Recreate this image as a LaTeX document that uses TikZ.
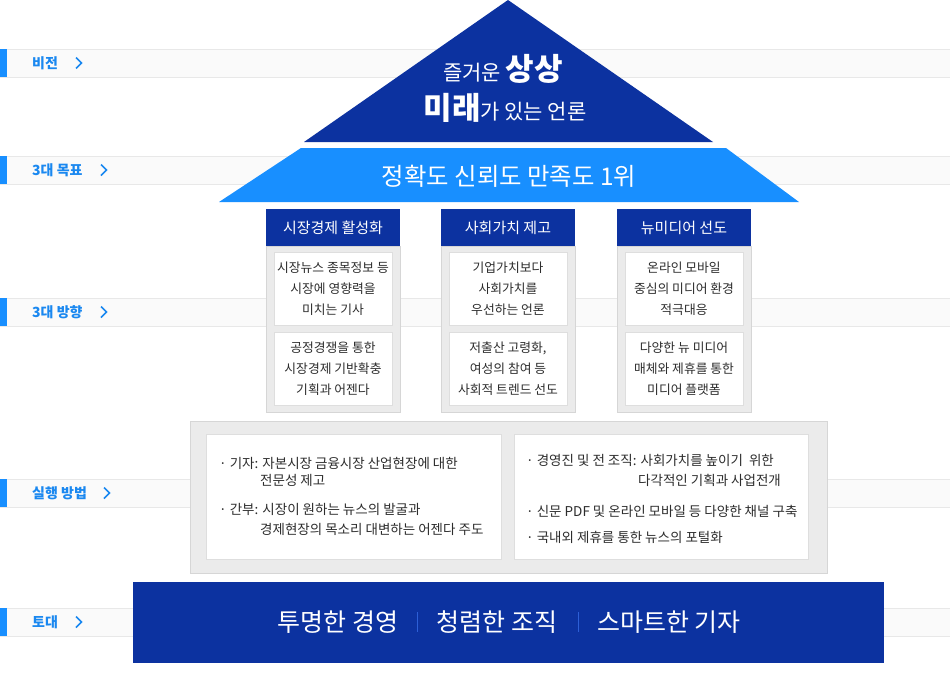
\documentclass[tikz,border=0pt]{standalone}
\usepackage{fontspec}
\setmainfont{Noto Sans CJK KR}
\definecolor{navy}{RGB}{12,50,160}
\definecolor{lblue}{RGB}{24,143,255}
\definecolor{labblue}{RGB}{26,136,240}
\definecolor{bandfill}{RGB}{250,250,250}
\definecolor{bandline}{RGB}{232,232,232}
\definecolor{colgrey}{RGB}{235,235,235}
\definecolor{colline}{RGB}{214,214,214}
\definecolor{boxline}{RGB}{222,222,222}
\definecolor{txt}{RGB}{45,45,45}
\definecolor{sepblue}{RGB}{45,95,215}
\tikzset{
  lab/.style={anchor=west, text=labblue, font=\bfseries\fontsize{14}{16}\selectfont, inner sep=0},
  chev/.style={draw=labblue, line width=1.7pt},
  colhead/.style={fill=navy, text=white, minimum width=134pt, minimum height=37pt, inner sep=0, font=\fontsize{15}{17}\selectfont},
  colbody/.style={fill=colgrey, draw=colline, minimum width=134pt, minimum height=166pt, inner sep=0},
  wbox/.style={fill=white, draw=boxline, minimum width=118pt, minimum height=73pt, inner sep=0, align=center, text=txt, font=\fontsize{12.8}{21}\selectfont},
  ptxt/.style={anchor=west, inner sep=0, text=txt, font=\fontsize{13.5}{15}\selectfont},
  basetxt/.style={text=white, inner sep=0, font=\fontsize{25}{28}\selectfont}
}
\begin{document}
\begin{tikzpicture}[x=1pt,y=-1pt]
\useasboundingbox (0,0) rectangle (950,680);
\fill[white] (0,0) rectangle (950,680);
% bands
\foreach \ya/\t/\cx/\n in {49/비전/79/b1, 156/3대 목표/104/b2, 298/3대 방향/104/b3, 479/실행 방법/107/b4, 608/토대/79/b5}{
  \fill[bandfill] (0,\ya) rectangle (950,\ya+28);
  \draw[bandline, line width=0.8pt] (0,\ya) -- (950,\ya) (0,\ya+28) -- (950,\ya+28);
  \fill[lblue] (0,\ya) rectangle (7,\ya+28);
  \node[lab] (\n) at (32,\ya+14) {\t};
  \draw[chev] (\cx-3,\ya+8.5) -- (\cx+2.5,\ya+14) -- (\cx-3,\ya+19.5);
}
% triangle
\fill[navy] (508,0) -- (713,142) -- (304,142) -- cycle;
\node[text=white, inner sep=0, font=\fontsize{21}{24}\selectfont] (v1) at (503,69) {즐거운 {\bfseries\fontsize{31}{33}\selectfont 상상}};
\node[text=white, inner sep=0, font=\fontsize{21}{24}\selectfont] (v2) at (505,108) {{\bfseries\fontsize{31}{33}\selectfont 미래}가 있는 언론};
% trapezoid
\fill[lblue] (301,148) -- (726,148) -- (799,202) -- (219,202) -- cycle;
\node[text=white, inner sep=0, font=\fontsize{24.4}{27}\selectfont] (goal) at (509,176) {정확도 신뢰도 만족도 1위};
% columns
\foreach \cx/\n/\h/\ta/\tb in {
  333/c1/시장경제 활성화/{시장뉴스 종목정보 등\\시장에 영향력을\\미치는 기사}/{공정경쟁을 통한\\시장경제 기반확충\\기획과 어젠다},
  508/c2/사회가치 제고/{기업가치보다\\사회가치를\\우선하는 언론}/{저출산 고령화,\\여성의 참여 등\\사회적 트렌드 선도},
  684/c3/뉴미디어 선도/{온라인 모바일\\중심의 미디어 환경\\적극대응}/{다양한 뉴 미디어\\매체와 제휴를 통한\\미디어 플랫폼}}{
  \node[colbody] (\n body) at (\cx,329) {};
  \node[colhead] (\n head) at (\cx,227.5) {\h};
  \node[wbox] (\n a) at (\cx,288.5) {\ta};
  \node[wbox] (\n b) at (\cx,368.5) {\tb};
}
% practice
\node[fill=colgrey, draw=colline, minimum width=637pt, minimum height=152pt, inner sep=0] (prac) at (508.5,497) {};
\node[fill=white, draw=boxline, minimum width=295pt, minimum height=125pt, inner sep=0] (pa) at (353.5,496.5) {};
\node[fill=white, draw=boxline, minimum width=294pt, minimum height=125pt, inner sep=0] (pb) at (661,496.5) {};
\node[ptxt] (pa1) at (219,463) {· 기자: 자본시장 금융시장 산업현장에 대한};
\node[ptxt] (pa2) at (260,480) {전문성 제고};
\node[ptxt] (pa3) at (219,509) {· 간부: 시장이 원하는 뉴스의 발굴과};
\node[ptxt] (pa4) at (260,529) {경제현장의 목소리 대변하는 어젠다 주도};
\node[ptxt] (pb1) at (526,460) {· 경영진 및 전 조직: 사회가치를 높이기\ \ 위한};
\node[ptxt] (pb2) at (638,480) {다각적인 기획과 사업전개};
\node[ptxt] (pb3) at (526,511) {· 신문 PDF 및 온라인 모바일 등 다양한 채널 구축};
\node[ptxt] (pb4) at (526,537) {· 국내외 제휴를 통한 뉴스의 포털화};
% base
\node[fill=navy, minimum width=751pt, minimum height=81pt, inner sep=0] (base) at (508.5,622.5) {};
\node[basetxt] (f1) at (338,622) {투명한 경영};
\node[basetxt] (f2) at (497,622) {청렴한 조직};
\node[basetxt] (f3) at (669,622) {스마트한 기자};
\coordinate (s1) at (417,622);
\coordinate (s2) at (578,622);
\draw[sepblue, line width=1pt] ([yshift=10pt]s1) -- ([yshift=-10pt]s1);
\draw[sepblue, line width=1pt] ([yshift=10pt]s2) -- ([yshift=-10pt]s2);
\end{tikzpicture}
\end{document}
